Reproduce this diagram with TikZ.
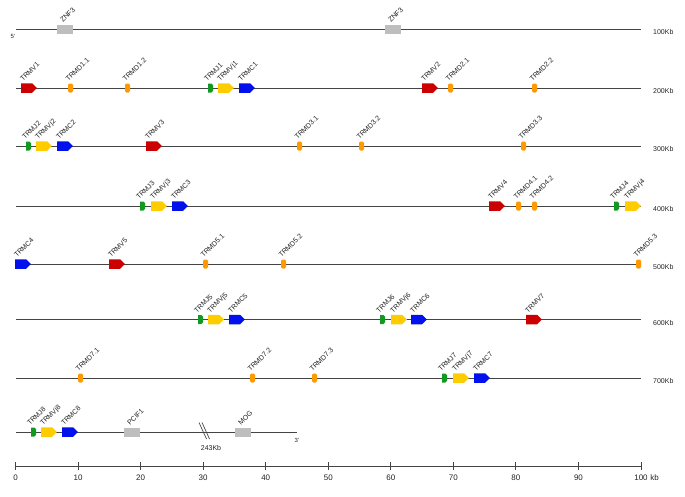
\documentclass[tikz,border=0pt]{standalone}
\usepackage{fontspec}
\setmainfont{Liberation Sans}
\definecolor{cV}{HTML}{CC0000}
\definecolor{cVj}{HTML}{FFCC00}
\definecolor{cC}{HTML}{0011EE}
\definecolor{cJ}{HTML}{119922}
\definecolor{cD}{HTML}{FF9900}
\definecolor{cG}{HTML}{BEBEBE}
\definecolor{cLine}{HTML}{444444}
\definecolor{cTxt}{HTML}{222222}
\tikzset{
  lbl/.style={anchor=base west,rotate=45,inner sep=0pt,text=cTxt,font=\fontsize{7}{8}\selectfont},
  rowline/.style={draw=cLine,line width=0.9pt},
  kblbl/.style={anchor=west,inner sep=0pt,text=cTxt,font=\fontsize{7}{8}\selectfont},
  axlbl/.style={inner sep=0pt,text=cTxt,font=\fontsize{8}{9}\selectfont},
}
% arrow gene: name, x, y, colour, label
\newcommand\geneArrow[5]{%
  \fill[#4] (#2,#3-4.75) -- ++(11,0) -- ++(5,4.75) -- ++(-5,4.75) -- ++(-11,0) -- cycle;
  \node[lbl] (#1) at (#2+2,#3-6) {#5};}
\newcommand\geneJ[4]{%
  \fill[cJ] (#2,#3-4.5) -- (#2+3,#3-4.5) [rounded corners=1.6pt] -- (#2+5,#3-4.5) -- (#2+5,#3+4.5) [sharp corners] -- (#2+3,#3+4.5) -- (#2,#3+4.5) -- cycle;
  \node[lbl] (#1) at (#2-1,#3-6) {#4};}
\newcommand\geneD[4]{%
  \fill[cD,rounded corners=1.3pt] (#2,#3-4.5) rectangle ++(5,9);
  \node[lbl] (#1) at (#2+0.5,#3-6) {#4};}
\newcommand\geneG[4]{%
  \fill[cG] (#2,#3-4.5) rectangle ++(16,9);
  \node[lbl] (#1) at (#2+6,#3-6) {#4};}
\begin{document}
\begin{tikzpicture}[x=1pt,y=-1pt]
\useasboundingbox (0,0) rectangle (685,496);
% row lines
\foreach \yy/\lab [count=\i] in {29/100Kb,88/200Kb,146/300Kb,206/400Kb,264/500Kb,319.5/600Kb,378/700Kb}{
  \coordinate (s\i) at (16,\yy);
  \coordinate (e\i) at (641,\yy);
  \draw[rowline] (s\i) -- (e\i);
  \node[kblbl] (k\i) at (653,\yy+3) {\lab};
}
\coordinate (s8) at (16,432);
\coordinate (e8) at (297,432);
\draw[rowline] (s8) -- (e8);
\node[text=cTxt,inner sep=0pt,font=\fontsize{6}{7}\selectfont] (p5) at (13,36.5) {5'};
\node[text=cTxt,inner sep=0pt,font=\fontsize{6}{7}\selectfont] (p3) at (297,440) {3'};
% row 1
\geneG{z1}{57}{29}{ZNF3}
\geneG{z2}{385}{29}{ZNF3}
% row 2
\geneArrow{v1}{21}{88}{cV}{TRMV1}
\geneD{d11}{68}{88}{TRMD1.1}
\geneD{d12}{125}{88}{TRMD1.2}
\geneJ{j1}{208}{88}{TRMJ1}
\geneArrow{vj1}{218}{88}{cVj}{TRMVj1}
\geneArrow{c1}{239}{88}{cC}{TRMC1}
\geneArrow{v2}{422}{88}{cV}{TRMV2}
\geneD{d21}{448}{88}{TRMD2.1}
\geneD{d22}{532}{88}{TRMD2.2}
% row 3
\geneJ{j2}{26}{146}{TRMJ2}
\geneArrow{vj2}{36}{146}{cVj}{TRMVj2}
\geneArrow{c2}{57}{146}{cC}{TRMC2}
\geneArrow{v3}{146}{146}{cV}{TRMV3}
\geneD{d31}{297}{146}{TRMD3.1}
\geneD{d32}{359}{146}{TRMD3.2}
\geneD{d33}{521}{146}{TRMD3.3}
% row 4
\geneJ{j3}{140}{206}{TRMJ3}
\geneArrow{vj3}{151}{206}{cVj}{TRMVj3}
\geneArrow{c3}{172}{206}{cC}{TRMC3}
\geneArrow{v4}{489}{206}{cV}{TRMV4}
\geneD{d41}{516}{206}{TRMD4.1}
\geneD{d42}{532}{206}{TRMD4.2}
\geneJ{j4}{614}{206}{TRMJ4}
\geneArrow{vj4}{625}{206}{cVj}{TRMVj4}
% row 5
\geneArrow{c4}{15}{264}{cC}{TRMC4}
\geneArrow{v5}{109}{264}{cV}{TRMV5}
\geneD{d51}{203}{264}{TRMD5.1}
\geneD{d52}{281}{264}{TRMD5.2}
\geneD{d53}{636}{264}{TRMD5.3}
% row 6
\geneJ{j5}{198}{319.5}{TRMJ5}
\geneArrow{vj5}{208}{319.5}{cVj}{TRMVj5}
\geneArrow{c5}{229}{319.5}{cC}{TRMC5}
\geneJ{j6}{380}{319.5}{TRMJ6}
\geneArrow{vj6}{391}{319.5}{cVj}{TRMVj6}
\geneArrow{c6}{411}{319.5}{cC}{TRMC6}
\geneArrow{v7}{526}{319.5}{cV}{TRMV7}
% row 7
\geneD{d71}{78}{378}{TRMD7.1}
\geneD{d72}{250}{378}{TRMD7.2}
\geneD{d73}{312}{378}{TRMD7.3}
\geneJ{j7}{442}{378}{TRMJ7}
\geneArrow{vj7}{453}{378}{cVj}{TRMVj7}
\geneArrow{c7}{474}{378}{cC}{TRMC7}
% row 8
\geneJ{j8}{31}{432}{TRMJ8}
\geneArrow{vj8}{41}{432}{cVj}{TRMVj8}
\geneArrow{c8}{62}{432}{cC}{TRMC8}
\geneG{pc}{124}{432}{PCIF1}
\geneG{mog}{235}{432}{MOG}
% break
\draw[cLine,line width=0.7pt] (199,422.5) -- (206.5,439);
\draw[cLine,line width=0.7pt] (202,422.5) -- (209.5,439);
\node[axlbl,font=\fontsize{7}{8}\selectfont] (brk) at (211,447.5) {243Kb};
% axis
\coordinate (a0) at (15.5,466);
\coordinate (a1) at (641,466);
\draw[cLine,line width=0.9pt] (a0) -- (a1);
\foreach \t in {0,10,...,90}{
  \draw[cLine,line width=0.9pt] ({15.5+6.255*\t},462) -- ({15.5+6.255*\t},470);
  \node[axlbl] (t\t) at ({15.5+6.255*\t},477.5) {\t};
}
\draw[cLine,line width=0.9pt] (641,462) -- (641,470);
\node[axlbl] (t100) at (641,477.5) {100};
\node[axlbl,anchor=west] (tkb) at ([xshift=2.2pt]t100.east) {kb};
\end{tikzpicture}
\end{document}
